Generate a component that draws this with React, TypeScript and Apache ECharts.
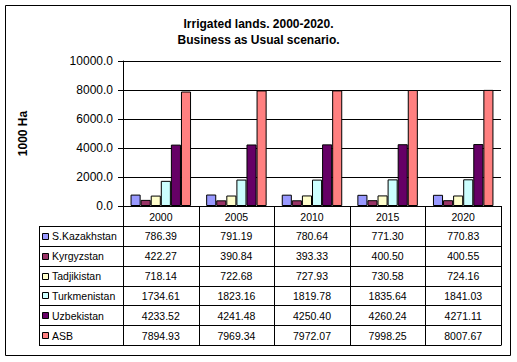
import React, { useEffect, useRef } from "react";
import * as echarts from "echarts";

const years = ["2000", "2005", "2010", "2015", "2020"];
const seriesNames = ["S.Kazakhstan", "Kyrgyzstan", "Tadjikistan", "Turkmenistan", "Uzbekistan", "ASB"];
const sKazakhstan = [786.39, 791.19, 780.64, 771.3, 770.83];
const kyrgyzstan = [422.27, 390.84, 393.33, 400.5, 400.55];
const tadjikistan = [718.14, 722.68, 727.93, 730.58, 724.16];
const turkmenistan = [1734.61, 1823.16, 1819.78, 1835.64, 1841.03];
const uzbekistan = [4233.52, 4241.48, 4250.4, 4260.24, 4271.11];
const asb = [7894.93, 7969.34, 7972.07, 7998.25, 8007.67];
const seriesValues = [sKazakhstan, kyrgyzstan, tadjikistan, turkmenistan, uzbekistan, asb];
const colors = ["#9999FF", "#993366", "#FFFFCC", "#CCFFFF", "#660066", "#FF8080"];

const W = 517;
const H = 362;
const gridLeft = 123;
const gridRight = 501;
const gridTop = 61;
const gridBottom = 206;
const tableLeft = 39;
const headerBottom = 226;
const tableBottom = 345;
const FONT = "Arial, 'Liberation Sans', sans-serif";

export default function App() {
  const ref = useRef<HTMLDivElement>(null);
  useEffect(() => {
    if (!ref.current) return;
    const chart = echarts.init(ref.current, null, { renderer: "svg" });
    const n = years.length;
    const catW = (gridRight - gridLeft) / n;
    const rowH = (tableBottom - headerBottom) / seriesNames.length;
    const g: any[] = [];
    // outer border
    g.push({ type: "rect", shape: { x: 5.5, y: 5.5, width: 505, height: 350 }, style: { fill: "none", stroke: "#000", lineWidth: 1 }, silent: true });
    // horizontal table lines
    for (let i = 0; i <= seriesNames.length; i++) {
      const y = Math.round(headerBottom + i * rowH) + 0.5;
      g.push({ type: "line", shape: { x1: tableLeft, y1: y, x2: gridRight, y2: y }, style: { stroke: "#000", lineWidth: 1 } });
    }
    // vertical lines
    g.push({ type: "line", shape: { x1: tableLeft + 0.5, y1: headerBottom, x2: tableLeft + 0.5, y2: tableBottom + 0.5 }, style: { stroke: "#000", lineWidth: 1 } });
    for (let j = 0; j <= n; j++) {
      const x = Math.round(gridLeft + j * catW) + 0.5;
      g.push({ type: "line", shape: { x1: x, y1: gridBottom, x2: x, y2: tableBottom + 0.5 }, style: { stroke: "#000", lineWidth: 1 } });
    }
    // rows
    seriesNames.forEach((name, i) => {
      const cy = headerBottom + (i + 0.5) * rowH + 0.5;
      g.push({ type: "rect", shape: { x: 42.5, y: Math.round(cy - 3.5) + 0.5, width: 6, height: 6 }, style: { fill: colors[i], stroke: "#000", lineWidth: 1 } });
      g.push({ type: "text", x: 52, y: cy, style: { text: name, fontSize: 10.5, fontFamily: FONT, fill: "#000", verticalAlign: "middle", align: "left" } });
      seriesValues[i].forEach((v, j) => {
        g.push({ type: "text", x: gridLeft + (j + 0.5) * catW, y: cy, style: { text: v.toFixed(2), fontSize: 10.5, fontFamily: FONT, fill: "#000", verticalAlign: "middle", align: "center" } });
      });
    });

    chart.setOption({
      animation: false,
      backgroundColor: "#fff",
      title: {
        text: "Irrigated lands. 2000-2020.\nBusiness as Usual scenario.",
        left: "center",
        top: 11,
        textStyle: { fontSize: 12, fontWeight: "bold", fontFamily: FONT, color: "#000", lineHeight: 16 },
      },
      grid: { left: gridLeft, right: W - gridRight, top: gridTop, bottom: H - gridBottom, containLabel: false },
      xAxis: {
        type: "category",
        data: years,
        axisLine: { show: true, lineStyle: { color: "#000", width: 1 } },
        axisTick: { show: false },
        axisLabel: { color: "#000", fontSize: 10.5, fontFamily: FONT, margin: 5 },
      },
      yAxis: {
        type: "value",
        min: 0,
        max: 10000,
        interval: 2000,
        name: "1000 Ha",
        nameLocation: "middle",
        nameRotate: 90,
        nameGap: 94,
        nameTextStyle: { fontSize: 12, fontWeight: "bold", fontFamily: FONT, color: "#000" },
        axisLine: { show: true, lineStyle: { color: "#000", width: 1 } },
        axisTick: { show: true, length: 5, lineStyle: { color: "#000" } },
        axisLabel: { color: "#000", fontSize: 12, fontFamily: FONT, margin: 10, formatter: (v: number) => v.toFixed(1) },
        splitLine: { show: true, lineStyle: { color: "#000", width: 1 } },
      },
      series: seriesNames.map((name, i) => ({
        name,
        type: "bar",
        data: seriesValues[i],
        barGap: "0%",
        barCategoryGap: "20%",
        itemStyle: { color: colors[i], borderColor: "#000", borderWidth: 1 },
      })),
      graphic: g,
    });
    return () => chart.dispose();
  }, []);
  return <div ref={ref} style={{ position: "fixed", left: 0, top: 0, width: W, height: H, background: "#fff" }} />;
}
